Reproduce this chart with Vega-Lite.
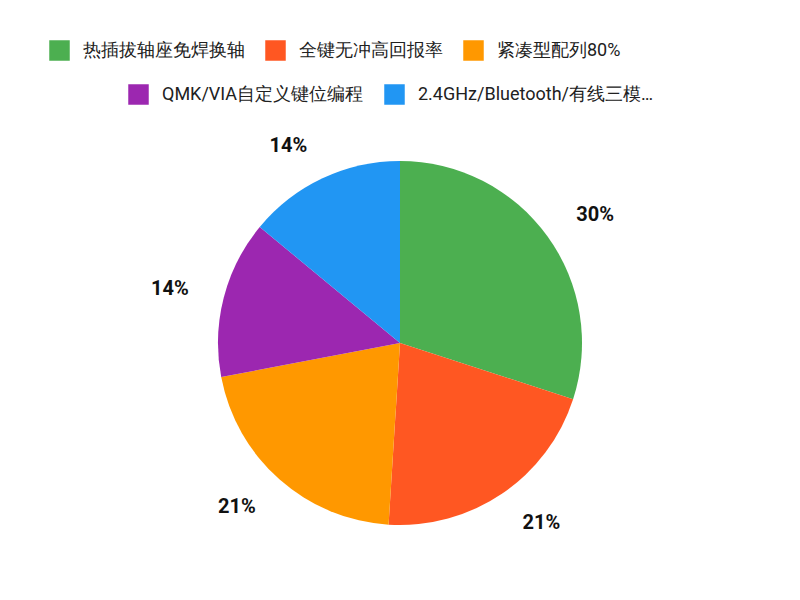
{
  "$schema": "https://vega.github.io/schema/vega-lite/v6.json",
  "width": 800,
  "height": 514,
  "autosize": "none",
  "padding": {"top": 86, "bottom": 0, "left": 0, "right": 0},
  "background": "white",
  "config": {"view": {"stroke": null}, "font": "Roboto"},
  "data": {
    "values": [
      {"feature": "热插拔轴座免焊换轴", "order": 1, "value": 30, "label": "30%"},
      {"feature": "全键无冲高回报率", "order": 2, "value": 21, "label": "21%"},
      {"feature": "紧凑型配列80%", "order": 3, "value": 21, "label": "21%"},
      {"feature": "QMK/VIA自定义键位编程", "order": 4, "value": 14, "label": "14%"},
      {"feature": "2.4GHz/Bluetooth/有线三模连接", "order": 5, "value": 14, "label": "14%"}
    ]
  },
  "transform": [
    {"stack": "value", "groupby": [], "sort": [{"field": "order"}], "as": ["v0", "v1"]}
  ],
  "layer": [
    {
      "transform": [{"filter": "datum.order <= 3"}],
      "mark": {"type": "arc", "outerRadius": 182},
      "encoding": {
        "theta": {"field": "v0", "type": "quantitative", "stack": null, "scale": {"domain": [0, 100]}},
        "theta2": {"field": "v1"},
        "color": {
          "field": "feature",
          "type": "nominal",
          "sort": ["热插拔轴座免焊换轴", "全键无冲高回报率", "紧凑型配列80%"],
          "scale": {
            "domain": ["热插拔轴座免焊换轴", "全键无冲高回报率", "紧凑型配列80%"],
            "range": ["#4CAF50", "#FF5722", "#FF9800"]
          },
          "legend": {
            "title": null,
            "orient": "none",
            "legendX": 49,
            "legendY": -46,
            "direction": "horizontal",
            "gridAlign": "none",
            "padding": 0,
            "symbolType": "square",
            "symbolSize": 420,
            "symbolStrokeWidth": 0,
            "labelFontSize": 18,
            "labelFont": "Roboto",
            "labelColor": "#212121",
            "labelLimit": 240,
            "labelOffset": 13,
            "columnPadding": 20
          }
        }
      }
    },
    {
      "transform": [{"filter": "datum.order >= 4"}],
      "mark": {"type": "arc", "outerRadius": 182},
      "encoding": {
        "theta": {"field": "v0", "type": "quantitative", "stack": null},
        "theta2": {"field": "v1"},
        "fill": {
          "field": "feature",
          "type": "nominal",
          "sort": ["QMK/VIA自定义键位编程", "2.4GHz/Bluetooth/有线三模连接"],
          "scale": {
            "domain": ["QMK/VIA自定义键位编程", "2.4GHz/Bluetooth/有线三模连接"],
            "range": ["#9C27B0", "#2196F3"]
          },
          "legend": {
            "title": null,
            "orient": "none",
            "legendX": 128,
            "legendY": -2,
            "direction": "horizontal",
            "gridAlign": "none",
            "padding": 0,
            "symbolType": "square",
            "symbolSize": 420,
            "symbolStrokeWidth": 0,
            "labelFontSize": 18,
            "labelFont": "Roboto",
            "labelColor": "#212121",
            "labelLimit": 240,
            "labelOffset": 13,
            "columnPadding": 20
          }
        }
      }
    },
    {
      "mark": {"type": "text", "radius": 218, "align": "left", "baseline": "middle", "fontSize": 20, "fontWeight": "bold", "font": "Roboto", "color": "#111111"},
      "encoding": {
        "theta": {"field": "value", "type": "quantitative", "stack": true},
        "order": {"field": "order", "type": "quantitative"},
        "text": {"condition": {"test": "datum.order <= 2", "field": "label"}, "value": ""}
      }
    },
    {
      "mark": {"type": "text", "radius": 218, "align": "right", "baseline": "middle", "fontSize": 20, "fontWeight": "bold", "font": "Roboto", "color": "#111111"},
      "encoding": {
        "theta": {"field": "value", "type": "quantitative", "stack": true},
        "order": {"field": "order", "type": "quantitative"},
        "text": {"condition": {"test": "datum.order >= 3", "field": "label"}, "value": ""}
      }
    }
  ]
}
